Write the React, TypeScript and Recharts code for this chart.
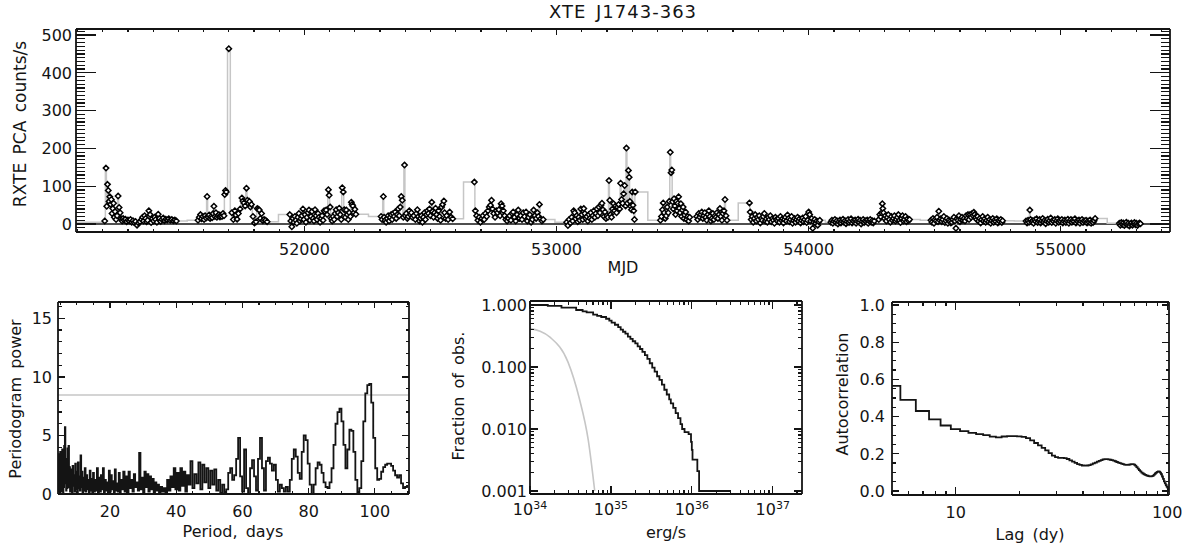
import React from 'react';
import { ComposedChart, LineChart, Line, Scatter, XAxis, YAxis, ReferenceLine } from 'recharts';

const INK = '#141414';
const GREY = '#c6c6c6';
const FONT = '"DejaVu Sans", Verdana, sans-serif';

// light curve: [MJD, RXTE PCA counts/s], one array per observing season
const season1: [number, number][] = [
  [51208, 8], [51213, 148], [51216, 47], [51219, 105], [51222, 89], [51225, 60], [51228, 72], [51231, 52],
  [51234, 65], [51237, 28], [51240, 41], [51243, 55], [51246, 18], [51249, 33], [51253, 12], [51257, 22],
  [51261, 74], [51265, 44], [51269, 30], [51273, 14], [51277, 8], [51281, 15], [51285, 10], [51290, 13],
  [51295, 6], [51300, 11], [51305, 8], [51310, 12], [51315, 5], [51320, 9], [51325, 4], [51330, 7],
  [51336, -3], [51342, 3], [51348, 6], [51354, 12], [51358, 18], [51362, 8], [51366, 22], [51370, 15],
  [51374, 6], [51378, 10], [51383, 35], [51388, 25], [51392, 4], [51397, 14], [51402, 8], [51406, 18],
  [51410, 12], [51415, 5], [51420, 26], [51425, 15], [51430, 7], [51435, 12], [51440, 16], [51445, 9],
  [51450, 13], [51456, 11], [51462, 14], [51468, 10], [51474, 12], [51480, 9], [51486, 11], [51492, 8],
];
const season2: [number, number][] = [
  [51578, 10], [51583, 18], [51588, 25], [51592, 14], [51597, 20], [51602, 12], [51606, 22], [51610, 16],
  [51614, 73], [51618, 18], [51622, 24], [51626, 15], [51630, 20], [51634, 17], [51638, 28], [51641, 47],
  [51645, 20], [51649, 30], [51653, 18], [51657, 22], [51661, 25], [51665, 19], [51669, 23], [51673, 20],
  [51677, 28], [51681, 22], [51684, 78], [51687, 89], [51690, 85], [51700, 464], [51712, 30], [51718, 12],
  [51724, 35], [51728, 24], [51733, 13], [51738, 28], [51745, 40], [51752, 69], [51756, 61], [51760, 56],
  [51765, 48], [51770, 95], [51774, 63], [51778, 54], [51782, 60], [51786, 45], [51790, 52], [51796, 20],
  [51802, 3], [51808, 6], [51813, 41], [51817, 39], [51821, 37], [51825, 15], [51830, 28], [51835, 9],
  [51840, 12], [51846, 10], [51852, 6],
];
const season3: [number, number][] = [
  [51942, 25], [51946, 8], [51950, -7], [51954, 15], [51958, 5], [51962, 20], [51966, 10], [51970, 2],
  [51974, 18], [51978, 28], [51982, 8], [51986, 14], [51990, 22], [51994, 40], [51998, 12], [52002, 25],
  [52006, 5], [52010, 18], [52014, 30], [52018, 37], [52022, 10], [52026, 20], [52030, 33], [52034, 15],
  [52038, 8], [52042, 38], [52046, 22], [52050, 12], [52054, 28], [52058, 18], [52062, 5], [52066, 15],
  [52070, 22], [52074, 10], [52078, 35], [52082, 33], [52086, 37], [52090, 25], [52095, 91], [52098, 76],
  [52102, 45], [52106, 15], [52110, 8], [52114, 20], [52118, 12], [52122, 28], [52126, 38], [52130, 20],
  [52134, 30], [52138, 42], [52142, 25], [52146, 12], [52150, 96], [52154, 85], [52158, 38], [52162, 18],
  [52166, 37], [52170, 25], [52174, 12], [52178, 30], [52182, 20], [52186, 58], [52189, 52], [52192, 48],
  [52196, 30], [52200, 39], [52204, 26],
];
const season4: [number, number][] = [
  [52304, 20], [52308, 12], [52313, 73], [52316, 18], [52320, 10], [52324, 5], [52328, 15], [52332, 22],
  [52336, 8], [52340, 18], [52344, 25], [52348, 12], [52352, 28], [52356, 20], [52360, 32], [52364, 15],
  [52368, 25], [52372, 40], [52376, 22], [52380, 45], [52384, 73], [52388, 63], [52392, 18], [52397, 156],
  [52400, 22], [52404, 28], [52408, 15], [52412, 20], [52416, 35], [52420, 25], [52424, 30], [52428, 18],
  [52434, 22], [52440, 12], [52444, 28], [52448, 38], [52452, 20], [52456, 8], [52460, 15], [52464, 22],
  [52468, 5], [52472, 18], [52476, 30], [52480, 12], [52484, 25], [52488, 35], [52492, 28], [52496, 40],
  [52500, 22], [52505, 58], [52508, 33], [52512, 18], [52516, 30], [52520, 42], [52524, 25], [52528, 15],
  [52532, 35], [52536, 20], [52540, 10], [52544, 45], [52548, 52], [52553, 61], [52556, 30], [52560, 15],
  [52564, 22], [52570, 12], [52576, 32], [52582, 18], [52588, 14],
];
const season5: [number, number][] = [
  [52674, 111], [52678, 35], [52683, 22], [52688, 10], [52693, 18], [52698, 5], [52703, 15], [52708, 22],
  [52713, 12], [52718, 28], [52723, 20], [52728, 35], [52733, 45], [52738, 50], [52742, 63], [52746, 40],
  [52751, 28], [52756, 18], [52761, 35], [52766, 30], [52771, 38], [52776, 22], [52780, 54], [52784, 48],
  [52789, 35], [52794, 22], [52799, 12], [52804, 8], [52809, 15], [52814, 22], [52819, 10], [52824, 28],
  [52828, 32], [52833, 18], [52838, 8], [52843, 25], [52848, 37], [52853, 15], [52858, 22], [52863, 12],
  [52868, 30], [52873, 20], [52879, 32], [52884, 8], [52889, 18], [52894, 25], [52899, 5], [52904, 12],
  [52909, 37], [52914, 22], [52919, 15], [52924, 30], [52928, 20], [52932, 52], [52937, 14], [52942, 8],
  [52947, 12],
];
const season6: [number, number][] = [
  [53040, 5], [53045, -4], [53050, 12], [53055, 3], [53060, 18], [53064, 8], [53068, 35], [53072, 30],
  [53076, 14], [53080, 22], [53084, 6], [53088, 18], [53092, 10], [53096, 40], [53100, 25], [53104, 12],
  [53108, 41], [53112, 28], [53116, 15], [53120, 20], [53124, 8], [53128, 25], [53132, 15], [53136, 30],
  [53140, 12], [53144, 22], [53148, 35], [53152, 18], [53156, 28], [53160, 40], [53164, 22], [53168, 45],
  [53172, 30], [53176, 50], [53180, 55], [53184, 38], [53188, 20], [53192, 32], [53196, 15], [53200, 22],
  [53204, 18], [53208, 115], [53211, 63], [53214, 25], [53218, 18], [53222, 40], [53226, 54], [53230, 35],
  [53234, 48], [53238, 30], [53242, 45], [53246, 52], [53250, 40], [53254, 108], [53258, 65], [53262, 55],
  [53266, 80], [53270, 102], [53274, 48], [53277, 201], [53281, 55], [53285, 142], [53288, 124], [53291, 60],
  [53294, 47], [53297, 38], [53300, 85], [53303, 50], [53306, 35], [53309, 12], [53312, 85],
];
const season7: [number, number][] = [
  [53412, 10], [53416, 20], [53420, 38], [53423, 56], [53427, 30], [53431, 15], [53435, 22], [53439, 45],
  [53443, 30], [53447, 60], [53451, 190], [53454, 136], [53457, 143], [53460, 59], [53463, 40], [53466, 67],
  [53469, 48], [53472, 25], [53475, 60], [53478, 35], [53481, 55], [53484, 72], [53487, 42], [53490, 30],
  [53493, 54], [53496, 20], [53499, 37], [53502, 45], [53505, 15], [53508, 24], [53512, 32], [53516, 12],
  [53520, 20], [53524, 8], [53528, 18], [53556, 20], [53560, 12], [53564, 28], [53568, 18], [53572, 25],
  [53576, 32], [53580, 15], [53584, 22], [53588, 30], [53592, 18], [53596, 10], [53600, 25], [53604, 35],
  [53608, 20], [53612, 8], [53616, 15], [53620, 28], [53624, 12], [53628, 22], [53632, 18], [53636, 30],
  [53640, 15], [53644, 25], [53648, 41], [53652, 20], [53656, 10], [53660, 28], [53664, 35], [53668, 65],
  [53672, 22], [53676, 10],
];
const season8: [number, number][] = [
  [53765, 56], [53768, 32], [53772, 12], [53776, 20], [53780, 5], [53784, 15], [53788, 25], [53792, 8],
  [53796, 18], [53800, 12], [53804, 22], [53808, 3], [53812, 15], [53816, 10], [53820, 20], [53824, 28],
  [53828, 8], [53832, 14], [53836, 5], [53840, 18], [53844, 12], [53848, 22], [53852, 6], [53856, 15],
  [53860, 10], [53864, 2], [53868, 18], [53872, 12], [53876, 8], [53880, 15], [53884, 5], [53888, 20],
  [53892, 10], [53896, 14], [53900, 3], [53904, 12], [53908, 18], [53912, 8], [53916, 24], [53920, 15],
  [53924, 6], [53928, 12], [53932, 20], [53936, 2], [53940, 10], [53944, 15], [53948, 5], [53952, 12],
  [53956, 18], [53960, 8], [53964, 14], [53968, 3], [53972, 10], [53976, 16], [53980, 6], [53984, 12],
  [53988, 20], [53992, 4], [53996, 10], [54000, 32], [54004, 25], [54008, 8], [54012, 15], [54016, -11],
  [54020, 5], [54024, 12], [54028, 2], [54032, 8], [54036, -3], [54040, 6], [54044, 10],
];
const season9: [number, number][] = [
  [54088, 5], [54092, 10], [54096, 2], [54100, 8], [54104, 12], [54108, 4], [54112, 9], [54116, 0],
  [54120, 6], [54124, 11], [54128, 3], [54132, 8], [54136, 13], [54140, 5], [54144, 9], [54148, 1],
  [54152, 7], [54156, 12], [54160, 4], [54164, 8], [54168, 14], [54172, 3], [54176, 9], [54180, 6],
  [54184, 11], [54188, 2], [54192, 8], [54196, 13], [54200, 5], [54204, 10], [54208, 0], [54212, 7],
  [54216, 12], [54220, 4], [54224, 9], [54228, 6], [54232, 11], [54236, 2], [54240, 8], [54244, 12],
  [54248, 5], [54252, 9], [54256, 3], [54260, 8], [54278, 12], [54282, 25], [54286, 19], [54289, 30],
  [54292, 54], [54294, 41], [54297, 30], [54300, 15], [54304, 22], [54308, 8], [54312, 18], [54316, 25],
  [54320, 12], [54324, 5], [54328, 20], [54332, 10], [54336, 15], [54340, 22], [54344, 8], [54348, 12],
  [54352, 18], [54356, 25], [54360, 10], [54364, 4], [54368, 15], [54372, 22], [54376, 8], [54380, 12],
  [54384, 20], [54388, 6], [54392, 14], [54396, 9], [54400, 12],
];
const season10: [number, number][] = [
  [54485, 10], [54489, 5], [54493, 15], [54497, 2], [54501, 12], [54505, 8], [54509, 18], [54513, 6],
  [54516, 34], [54520, 10], [54524, 14], [54528, 6], [54532, 12], [54536, 20], [54540, 4], [54544, 9],
  [54548, 15], [54552, 2], [54556, 11], [54560, 7], [54564, 3], [54568, 5], [54572, 12], [54576, 18],
  [54580, 8], [54584, -11], [54588, 14], [54592, 10], [54596, 22], [54600, 6], [54604, 12], [54608, 18],
  [54612, 10], [54616, 15], [54620, 8], [54624, 22], [54628, 15], [54632, 25], [54636, 12], [54640, 25],
  [54644, 18], [54648, 28], [54652, 22], [54655, 31], [54658, 25], [54662, 18], [54666, 12], [54670, 20],
  [54674, 8], [54678, 15], [54682, 3], [54686, 12], [54690, 20], [54694, 8], [54698, 14], [54702, 5],
  [54706, 10], [54710, 18], [54714, 6], [54718, 12], [54722, 2], [54726, 9], [54730, 15], [54734, 5],
  [54738, 11], [54742, 7], [54746, 14], [54750, 3], [54754, 10], [54758, 6], [54762, 12], [54766, 4],
  [54769, 9],
];
const season11: [number, number][] = [
  [54862, 8], [54866, 3], [54870, 10], [54874, 5], [54877, 37], [54880, 12], [54884, 6], [54888, 9],
  [54892, 2], [54896, 11], [54900, 7], [54904, 14], [54908, 4], [54912, 9], [54916, 12], [54920, 3],
  [54924, 8], [54928, 15], [54932, 6], [54936, 10], [54940, 1], [54944, 8], [54948, 13], [54952, 5],
  [54956, 9], [54960, 16], [54964, 4], [54968, 10], [54972, 7], [54976, 12], [54980, 2], [54984, 9],
  [54988, 14], [54992, 5], [54996, 10], [55000, 6], [55004, 12], [55008, 3], [55012, 8], [55016, 11],
  [55020, 4], [55024, 9], [55028, 13], [55032, 2], [55036, 8], [55040, 12], [55044, 5], [55048, 10],
  [55052, 7], [55056, 14], [55060, 3], [55064, 9], [55068, 6], [55072, 11], [55076, 2], [55080, 8],
  [55084, 12], [55088, 4], [55092, 9], [55096, 6], [55100, 10], [55104, 3], [55108, 8], [55112, 5],
  [55116, 11], [55120, 2], [55124, 7], [55128, 4], [55132, 9], [55136, 15],
];
const season12: [number, number][] = [
  [55232, 2], [55236, -3], [55240, 4], [55244, -1], [55248, 3], [55252, -4], [55256, 1], [55260, 5],
  [55264, -2], [55268, 2], [55272, -5], [55276, 0], [55280, 3], [55284, -3], [55288, 1], [55292, 4],
  [55296, -2], [55300, 2], [55304, -4], [55308, 0], [55312, 3], [55316, 1],
];
// grey histogram level before the first pointing
const greyLeadIn: [number, number][] = [[51094, 5], [51200, 5]];

// periodogram: [period (days), power]
const periodogram: [number, number][] = [
  [4.4, 2.5], [4.5, 0.2], [4.6, 3.4], [4.7, 0.5], [4.8, 2.8], [4.9, 0.1], [5.0, 3.6], [5.1, 0.8], [5.2, 3.0],
  [5.3, 0.2], [5.4, 2.2], [5.5, 0.4], [5.6, 3.8], [5.7, 1.0], [5.8, 2.6], [5.9, 0.1], [6.0, 3.2], [6.1, 0.6],
  [6.2, 4.1], [6.3, 0.9], [6.45, 5.7], [6.6, 1.4], [6.7, 3.0], [6.8, 0.3], [6.95, 2.4], [7.1, 0.5], [7.25, 3.9],
  [7.4, 1.1], [7.55, 4.1], [7.7, 0.6], [7.85, 2.3], [8.0, 0.2], [8.15, 2.1], [8.3, 0.5], [8.45, 1.8], [8.6, 0.1],
  [8.8, 2.4], [9.0, 0.7], [9.2, 1.6], [9.4, 0.2], [9.6, 2.6], [9.8, 0.4], [10.0, 1.9], [10.2, 0.1], [10.4, 2.7],
  [10.6, 0.5], [10.8, 1.5], [11.0, 0.3], [11.2, 3.3], [11.4, 0.6], [11.6, 1.9], [11.8, 0.1], [12.0, 1.4],
  [12.25, 0.3], [12.5, 2.2], [12.75, 0.2], [13.0, 1.6], [13.25, 0.4], [13.5, 1.2], [13.75, 0.1], [14.0, 2.0],
  [14.25, 0.3], [14.5, 1.3], [14.75, 0.1], [15.0, 1.8], [15.3, 0.2], [15.6, 1.2], [15.9, 0.3], [16.2, 2.2],
  [16.5, 0.1], [16.8, 1.4], [17.1, 0.2], [17.4, 1.6], [17.7, 0.4], [18.0, 2.2], [18.3, 0.1], [18.6, 1.2],
  [18.9, 0.3], [19.2, 1.0], [19.5, 0.1], [19.8, 2.0], [20.1, 0.2], [20.4, 1.6], [20.7, 0.4], [21.0, 1.1],
  [21.3, 0.1], [21.6, 2.1], [21.9, 0.3], [22.2, 0.9], [22.5, 0.2], [22.8, 1.8], [23.1, 0.1], [23.4, 1.2],
  [23.8, 0.4], [24.2, 1.9], [24.6, 0.2], [25.0, 1.5], [25.4, 0.1], [25.8, 1.9], [26.2, 0.5], [26.6, 1.2],
  [27.0, 0.2], [27.4, 1.7], [27.8, 0.6], [28.2, 1.0], [28.6, 0.3], [29.0, 3.5], [29.4, 0.4], [29.8, 1.4],
  [30.2, 0.1], [30.6, 1.9], [31.0, 0.6], [31.4, 1.7], [31.8, 0.2], [32.2, 1.5], [32.6, 0.4], [33.0, 1.3],
  [33.4, 0.1], [33.8, 1.0], [34.2, 0.3], [34.6, 0.8], [35.0, 0.1], [35.5, 0.6], [36.0, 0.2], [36.5, 0.5],
  [37.0, 0.1], [37.5, 1.2], [38.0, 0.3], [38.5, 1.5], [39.0, 0.6], [39.5, 2.2], [40.0, 0.4], [40.5, 1.8],
  [41.0, 0.3], [41.5, 2.2], [42.0, 0.7], [42.5, 1.9], [43.0, 0.2], [43.5, 1.6], [44.0, 0.8], [44.6, 2.8],
  [45.2, 0.5], [45.8, 1.7], [46.4, 0.9], [47.0, 2.7], [47.6, 0.4], [48.2, 2.5], [48.8, 1.0], [49.4, 2.2],
  [50.0, 0.5], [50.6, 2.0], [51.2, 0.8], [51.8, 2.1], [52.4, 0.3], [53.0, 1.2], [53.6, 0.1], [54.2, 0.8],
  [54.8, 0.0], [55.4, 0.4], [56.0, 1.8], [56.6, 2.2], [57.2, 1.2], [57.8, 1.6], [58.4, 3.0], [59.0, 4.8],
  [59.6, 1.5], [60.2, 0.2], [60.8, 3.8], [61.4, 0.5], [62.0, 0.0], [62.6, 2.2], [63.2, 2.9], [63.8, 1.5],
  [64.4, 0.3], [65.0, 3.0], [65.6, 4.8], [66.2, 2.2], [66.8, 0.3], [67.4, 2.8], [68.0, 3.1], [68.6, 2.6],
  [69.2, 2.0], [69.8, 2.5], [70.4, 1.2], [71.0, 0.2], [71.6, 0.8], [72.2, 0.5], [72.8, 0.2], [73.4, 0.6],
  [74.0, 0.2], [74.6, 1.2], [75.2, 3.0], [75.8, 3.8], [76.4, 3.2], [77.0, 1.8], [77.6, 1.3], [78.2, 3.6],
  [78.8, 5.0], [79.4, 4.6], [80.0, 2.6], [80.6, 0.8], [81.2, 0.0], [81.8, 0.8], [82.4, 2.2], [83.0, 2.7],
  [83.6, 2.5], [84.2, 1.8], [84.8, 1.0], [85.4, 0.6], [86.0, 0.5], [86.6, 1.0], [87.2, 2.2], [87.8, 4.2],
  [88.4, 6.0], [89.0, 7.0], [89.6, 7.3], [90.2, 6.2], [90.8, 4.2], [91.4, 2.2], [92.0, 3.8], [92.6, 5.5],
  [93.2, 5.4], [93.8, 3.6], [94.4, 1.2], [95.0, 0.0], [95.6, 0.5], [96.2, 2.8], [96.8, 6.2], [97.4, 8.6],
  [98.0, 9.3], [98.6, 9.4], [99.2, 7.8], [99.8, 4.8], [100.4, 2.2], [101.0, 1.2], [101.6, 1.3], [102.2, 1.9],
  [102.8, 2.3], [103.4, 2.5], [104.0, 2.6], [104.6, 2.6], [105.2, 2.4], [105.8, 2.0], [106.4, 1.6],
  [107.0, 1.4], [107.6, 1.6], [108.2, 0.9], [108.8, 0.5], [109.4, 0.6], [110.0, 0.7],
];
const significanceLevel = 8.45;

// cumulative distribution: [luminosity erg/s, fraction of observations]
const observedCdf: [number, number][] = [
  [1.0e34, 1.0], [1.66e34, 0.97], [2.45e34, 0.905], [3.72e34, 0.83], [4.47e34, 0.79], [5.01e34, 0.76],
  [6.03e34, 0.7], [6.76e34, 0.67], [7.59e34, 0.64], [8.71e34, 0.6], [9.55e34, 0.56], [1.02e35, 0.52],
  [1.12e35, 0.48], [1.23e35, 0.44], [1.32e35, 0.4], [1.41e35, 0.37], [1.51e35, 0.345], [1.62e35, 0.31],
  [1.74e35, 0.285], [1.86e35, 0.26], [2.0e35, 0.24], [2.14e35, 0.215], [2.29e35, 0.195], [2.45e35, 0.175],
  [2.63e35, 0.155], [2.82e35, 0.135], [3.02e35, 0.115], [3.24e35, 0.098], [3.47e35, 0.084], [3.72e35, 0.071],
  [3.98e35, 0.062], [4.27e35, 0.052], [4.57e35, 0.043], [4.9e35, 0.036], [5.25e35, 0.03], [5.5e35, 0.026],
  [5.89e35, 0.022], [6.31e35, 0.018], [6.76e35, 0.015], [7.24e35, 0.012], [7.59e35, 0.01], [8.13e35, 0.0089],
  [9.12e35, 0.0083], [9.77e35, 0.0062], [1.0e36, 0.0046], [1.02e36, 0.0032], [1.17e36, 0.0021],
  [1.23e36, 0.001], [3.02e36, 0.001],
];
const modelCdf: [number, number][] = [
  [1.0e34, 0.42], [1.78e34, 0.3], [2.95e34, 0.12], [4.07e34, 0.031], [5.25e34, 0.0066], [6.31e34, 0.001],
];

// autocorrelation: [lag (days), value]
const autocorr: [number, number][] = [
  [5, 0.565], [6, 0.49], [7, 0.43], [8, 0.385], [9, 0.352], [10, 0.333], [11, 0.322], [12, 0.313], [13, 0.306],
  [14, 0.3], [15, 0.292], [16, 0.288], [17, 0.293], [18, 0.295], [19, 0.295], [20, 0.294], [21, 0.291],
  [22, 0.284], [23, 0.272], [24, 0.258], [25, 0.245], [26, 0.232], [27, 0.218], [28, 0.204], [29, 0.19],
  [30, 0.182], [31, 0.178], [32, 0.178], [33, 0.177], [34, 0.172], [35, 0.165], [36, 0.158], [37, 0.151],
  [38, 0.145], [39, 0.14], [40, 0.137], [41, 0.136], [42, 0.137], [43, 0.139], [44, 0.143], [45, 0.148],
  [46, 0.153], [47, 0.158], [48, 0.162], [49, 0.166], [50, 0.17], [51, 0.171], [52, 0.171], [53, 0.17],
  [54, 0.168], [55, 0.166], [56, 0.163], [57, 0.16], [58, 0.156], [59, 0.153], [60, 0.15], [61, 0.147],
  [62, 0.144], [63, 0.142], [64, 0.14], [65, 0.14], [66, 0.141], [67, 0.143], [68, 0.145], [69, 0.145],
  [70, 0.142], [71, 0.136], [72, 0.128], [73, 0.12], [74, 0.112], [75, 0.105], [76, 0.099], [77, 0.094],
  [78, 0.09], [79, 0.087], [80, 0.084], [81, 0.082], [82, 0.08], [83, 0.079], [84, 0.079], [85, 0.08],
  [86, 0.083], [87, 0.088], [88, 0.094], [89, 0.099], [90, 0.103], [91, 0.105], [92, 0.104], [93, 0.099],
  [94, 0.09], [95, 0.078], [96, 0.065], [97, 0.052], [98, 0.041], [99, 0.031], [100, 0.022], [101, 0.015],
  [102, 0.01],
];

const seasons = [season1, season2, season3, season4, season5, season6, season7, season8, season9, season10, season11, season12];
const lightCurve = seasons.flat().map(([mjd, rate]) => ({ mjd, rate }));
const greySteps = [...greyLeadIn, ...seasons.flat()].map(([mjd, rate]) => ({ mjd, rate }));
const pgData = periodogram.map(([p, power]) => ({ p, power }));
const obsData = observedCdf.map(([lum, frac]) => ({ lum, frac }));
const modelData = modelCdf.map(([lum, frac]) => ({ lum, frac }));
const acfData = autocorr.map(([lag, ac]) => ({ lag, ac }));

// tick helpers
const range = (a: number, b: number, step: number) => {
  const out: number[] = [];
  for (let v = a; v <= b + 1e-9; v += step) out.push(Math.round(v * 1e6) / 1e6);
  return out;
};
const logTicks = (lo: number, hi: number, min: number, max: number) => {
  const out: number[] = [];
  for (let e = lo; e <= hi; e++) for (let m = 1; m <= 9; m++) out.push(Number(`${m}e${e}`));
  return out.filter((v) => v >= min && v <= max);
};
const multipleOf = (step: number) => (v: number) => Math.abs(v / step - Math.round(v / step)) < 1e-6;
const isDecade = (v: number) => Math.abs(Math.log10(v) - Math.round(Math.log10(v))) < 1e-6;

const mjdDomain: [number, number] = [51094, 55433];
const rateDomain: [number, number] = [-21, 516];
const mjdTicks = range(51100, 55400, 100);
const rateTicks = range(-20, 510, 10);
const periodDomain: [number, number] = [4.3, 110.3];
const powerDomain: [number, number] = [0, 16.4];
const periodTicks = range(5, 110, 5);
const powerTicks = range(0, 16, 1);
const lumDomain: [number, number] = [1e34, 2.3e37];
const fracDomain: [number, number] = [8.95e-4, 1.16];
const lumTicks = logTicks(34, 37, lumDomain[0], lumDomain[1]);
const fracTicks = logTicks(-4, 0, fracDomain[0], fracDomain[1]);
const lagDomain: [number, number] = [5, 102];
const acDomain: [number, number] = [-0.0215, 1.016];
const lagTicks = [5, 6, 7, 8, 9, 10, 20, 30, 40, 50, 60, 70, 80, 90, 100];
const acfTicks = range(0, 1, 0.05);

type Side = 'bottom' | 'top' | 'left' | 'right';
interface TickOpts {
  side: Side;
  major: (v: number) => boolean;
  majorLen: number;
  minorLen: number;
  label?: (v: number) => React.ReactNode;
  gap?: number;
}

const makeTick = ({ side, major, majorLen, minorLen, label, gap = 0 }: TickOpts) => (props: any) => {
  const { x, y, payload } = props;
  const v = payload.value;
  const isMajor = major(v);
  const len = isMajor ? majorLen : minorLen;
  let x2 = x;
  let y2 = y;
  if (side === 'bottom') y2 = y - len;
  if (side === 'top') y2 = y + len;
  if (side === 'left') x2 = x + len;
  if (side === 'right') x2 = x - len;
  let text: React.ReactNode = null;
  if (isMajor && label) {
    const style = { fontFamily: FONT, fontSize: 16, fill: INK };
    if (side === 'bottom') {
      text = (
        <text x={x} y={y + gap} dy="0.36em" textAnchor="middle" style={style}>
          {label(v)}
        </text>
      );
    } else if (side === 'left') {
      text = (
        <text x={x - gap} y={y} dy="0.36em" textAnchor="end" style={style}>
          {label(v)}
        </text>
      );
    }
  }
  return (
    <g>
      <line x1={x} y1={y} x2={x2} y2={y2} stroke={INK} strokeWidth={1.2} shapeRendering="crispEdges" />
      {text}
    </g>
  );
};

const frame = { stroke: INK, strokeWidth: 1.8 };
const axisBase = {
  type: 'number' as const,
  interval: 0 as const,
  tickSize: 0,
  tickMargin: 0,
  tickLine: false,
  axisLine: frame,
  allowDataOverflow: true,
};

const pow10 = (v: number) => (
  <>
    <tspan>10</tspan>
    <tspan dy="-0.5em" fontSize={11}>
      {Math.round(Math.log10(v))}
    </tspan>
  </>
);

const Diamond = (p: any) => {
  const { cx, cy } = p;
  if (cx == null || cy == null) return null;
  const r = 2.7;
  return (
    <path
      d={`M${cx},${cy - r}L${cx + r},${cy}L${cx},${cy + r}L${cx - r},${cy}Z`}
      fill="#fff"
      stroke="#000"
      strokeWidth={1.5}
    />
  );
};

const Txt = ({ x, y, children, rot = false, size = 16, spacing = 0 }: { x: number; y: number; children: React.ReactNode; rot?: boolean; size?: number; spacing?: number }) => (
  <div
    style={{
      position: 'absolute',
      left: x,
      top: y,
      transform: `translate(-50%, -50%)${rot ? ' rotate(-90deg)' : ''}`,
      fontFamily: FONT,
      fontSize: size,
      color: INK,
      whiteSpace: 'nowrap',
      lineHeight: 1,
      wordSpacing: 3,
      letterSpacing: spacing,
    }}
  >
    {children}
  </div>
);

const App: React.FC = () => {
  return (
    <div style={{ position: 'absolute', left: 0, top: 0, width: 1188, height: 547, background: '#fff', overflow: 'hidden' }}>
      {/* light curve */}
      <div style={{ position: 'absolute', left: 0, top: 0 }}>
        <ComposedChart width={1188} height={270} margin={{ top: 28, right: 17, bottom: 0, left: 0 }}>
          <XAxis
            xAxisId="b"
            dataKey="mjd"
            {...axisBase}
            domain={mjdDomain}
            ticks={mjdTicks}
            height={38}
            tick={makeTick({ side: 'bottom', major: multipleOf(1000), majorLen: 6, minorLen: 3, label: (v) => String(v), gap: 17 })}
          />
          <XAxis
            xAxisId="t"
            orientation="top"
            dataKey="mjd"
            {...axisBase}
            domain={mjdDomain}
            ticks={mjdTicks}
            height={1}
            tick={makeTick({ side: 'top', major: multipleOf(1000), majorLen: 6, minorLen: 3 })}
          />
          <YAxis
            yAxisId="l"
            dataKey="rate"
            {...axisBase}
            domain={rateDomain}
            ticks={rateTicks}
            width={76}
            tick={makeTick({ side: 'left', major: multipleOf(100), majorLen: 20, minorLen: 9, label: (v) => String(v), gap: 4 })}
          />
          <YAxis
            yAxisId="r"
            orientation="right"
            dataKey="rate"
            {...axisBase}
            domain={rateDomain}
            ticks={rateTicks}
            width={1}
            tick={makeTick({ side: 'right', major: multipleOf(100), majorLen: 20, minorLen: 9 })}
          />
          <ReferenceLine xAxisId="b" yAxisId="l" y={0} stroke={INK} strokeWidth={1.4} />
          <Line
            xAxisId="b"
            yAxisId="l"
            data={greySteps}
            dataKey="rate"
            type="step"
            stroke={GREY}
            strokeWidth={1.5}
            dot={false}
            isAnimationActive={false}
          />
          <Line xAxisId="t" yAxisId="r" data={greyLeadIn.map(([mjd, rate]) => ({ mjd, rate }))} dataKey="rate" stroke="none" dot={false} isAnimationActive={false} />
          <Scatter xAxisId="b" yAxisId="l" data={lightCurve} dataKey="rate" shape={Diamond} isAnimationActive={false} />
        </ComposedChart>
      </div>

      {/* periodogram */}
      <div style={{ position: 'absolute', left: 0, top: 280 }}>
        <LineChart width={430} height={267} margin={{ top: 21, right: 20, bottom: 0, left: 0 }}>
          <XAxis
            xAxisId="b"
            dataKey="p"
            {...axisBase}
            domain={periodDomain}
            ticks={periodTicks}
            height={53}
            tick={makeTick({ side: 'bottom', major: multipleOf(20), majorLen: 6, minorLen: 3, label: (v) => String(v), gap: 17 })}
          />
          <XAxis
            xAxisId="t"
            orientation="top"
            dataKey="p"
            {...axisBase}
            domain={periodDomain}
            ticks={periodTicks}
            height={1}
            tick={makeTick({ side: 'top', major: multipleOf(20), majorLen: 6, minorLen: 3 })}
          />
          <YAxis
            yAxisId="l"
            dataKey="power"
            {...axisBase}
            domain={powerDomain}
            ticks={powerTicks}
            width={58}
            tick={makeTick({ side: 'left', major: multipleOf(5), majorLen: 7, minorLen: 3.5, label: (v) => String(v), gap: 6 })}
          />
          <YAxis
            yAxisId="r"
            orientation="right"
            dataKey="power"
            {...axisBase}
            domain={powerDomain}
            ticks={powerTicks}
            width={1}
            tick={makeTick({ side: 'right', major: multipleOf(5), majorLen: 7, minorLen: 3.5 })}
          />
          <ReferenceLine xAxisId="b" yAxisId="l" y={significanceLevel} stroke={GREY} strokeWidth={1.5} />
          <Line
            xAxisId="b"
            yAxisId="l"
            data={pgData}
            dataKey="power"
            type="step"
            stroke={INK}
            strokeWidth={1.8}
            dot={false}
            isAnimationActive={false}
          />
          <Line xAxisId="t" yAxisId="r" data={pgData.slice(0, 2)} dataKey="power" stroke="none" dot={false} isAnimationActive={false} />
        </LineChart>
      </div>

      {/* luminosity distribution */}
      <div style={{ position: 'absolute', left: 440, top: 280 }}>
        <LineChart width={380} height={267} margin={{ top: 20, right: 17, bottom: 0, left: 0 }}>
          <XAxis
            xAxisId="b"
            dataKey="lum"
            {...axisBase}
            scale="log"
            domain={lumDomain}
            ticks={lumTicks}
            height={53}
            tick={makeTick({ side: 'bottom', major: isDecade, majorLen: 8, minorLen: 4, label: pow10, gap: 15 })}
          />
          <XAxis
            xAxisId="t"
            orientation="top"
            dataKey="lum"
            {...axisBase}
            scale="log"
            domain={lumDomain}
            ticks={lumTicks}
            height={1}
            tick={makeTick({ side: 'top', major: isDecade, majorLen: 8, minorLen: 4 })}
          />
          <YAxis
            yAxisId="l"
            dataKey="frac"
            {...axisBase}
            scale="log"
            domain={fracDomain}
            ticks={fracTicks}
            width={90}
            tick={makeTick({ side: 'left', major: isDecade, majorLen: 8, minorLen: 4, label: (v) => v.toFixed(3), gap: 3 })}
          />
          <YAxis
            yAxisId="r"
            orientation="right"
            dataKey="frac"
            {...axisBase}
            scale="log"
            domain={fracDomain}
            ticks={fracTicks}
            width={1}
            tick={makeTick({ side: 'right', major: isDecade, majorLen: 8, minorLen: 4 })}
          />
          <Line
            xAxisId="b"
            yAxisId="l"
            data={modelData}
            dataKey="frac"
            type="monotone"
            stroke={GREY}
            strokeWidth={1.6}
            dot={false}
            isAnimationActive={false}
          />
          <Line
            xAxisId="b"
            yAxisId="l"
            data={obsData}
            dataKey="frac"
            type="stepAfter"
            stroke={INK}
            strokeWidth={1.8}
            dot={false}
            isAnimationActive={false}
          />
          <Line xAxisId="t" yAxisId="r" data={obsData.slice(0, 2)} dataKey="frac" stroke="none" dot={false} isAnimationActive={false} />
        </LineChart>
      </div>

      {/* autocorrelation */}
      <div style={{ position: 'absolute', left: 820, top: 280 }}>
        <LineChart width={368} height={267} margin={{ top: 21, right: 18, bottom: 0, left: 0 }}>
          <XAxis
            xAxisId="b"
            dataKey="lag"
            {...axisBase}
            scale="log"
            domain={lagDomain}
            ticks={lagTicks}
            height={52}
            tick={makeTick({ side: 'bottom', major: isDecade, majorLen: 8, minorLen: 4, label: (v) => String(v), gap: 17 })}
          />
          <XAxis
            xAxisId="t"
            orientation="top"
            dataKey="lag"
            {...axisBase}
            scale="log"
            domain={lagDomain}
            ticks={lagTicks}
            height={1}
            tick={makeTick({ side: 'top', major: isDecade, majorLen: 8, minorLen: 4 })}
          />
          <YAxis
            yAxisId="l"
            dataKey="ac"
            {...axisBase}
            domain={acDomain}
            ticks={acfTicks}
            width={72}
            tick={makeTick({ side: 'left', major: multipleOf(0.2), majorLen: 7, minorLen: 3.5, label: (v) => v.toFixed(1), gap: 7 })}
          />
          <YAxis
            yAxisId="r"
            orientation="right"
            dataKey="ac"
            {...axisBase}
            domain={acDomain}
            ticks={acfTicks}
            width={1}
            tick={makeTick({ side: 'right', major: multipleOf(0.2), majorLen: 7, minorLen: 3.5 })}
          />
          <Line
            xAxisId="b"
            yAxisId="l"
            data={acfData}
            dataKey="ac"
            type="step"
            stroke={INK}
            strokeWidth={1.8}
            dot={false}
            isAnimationActive={false}
          />
          <Line xAxisId="t" yAxisId="r" data={acfData.slice(0, 2)} dataKey="ac" stroke="none" dot={false} isAnimationActive={false} />
        </LineChart>
      </div>

      <Txt x={623} y={12} size={18} spacing={1}>XTE J1743-363</Txt>
      <Txt x={20} y={124} rot size={17}>RXTE PCA counts/s</Txt>
      <Txt x={623} y={268}>MJD</Txt>
      <Txt x={16} y={399} rot>Periodogram power</Txt>
      <Txt x={233} y={532}>Period, days</Txt>
      <Txt x={459} y={396} rot>Fraction of obs.</Txt>
      <Txt x={666} y={533}>erg/s</Txt>
      <Txt x={843} y={394} rot>Autocorrelation</Txt>
      <Txt x={1030} y={535}>Lag (dy)</Txt>
    </div>
  );
};

export default App;
